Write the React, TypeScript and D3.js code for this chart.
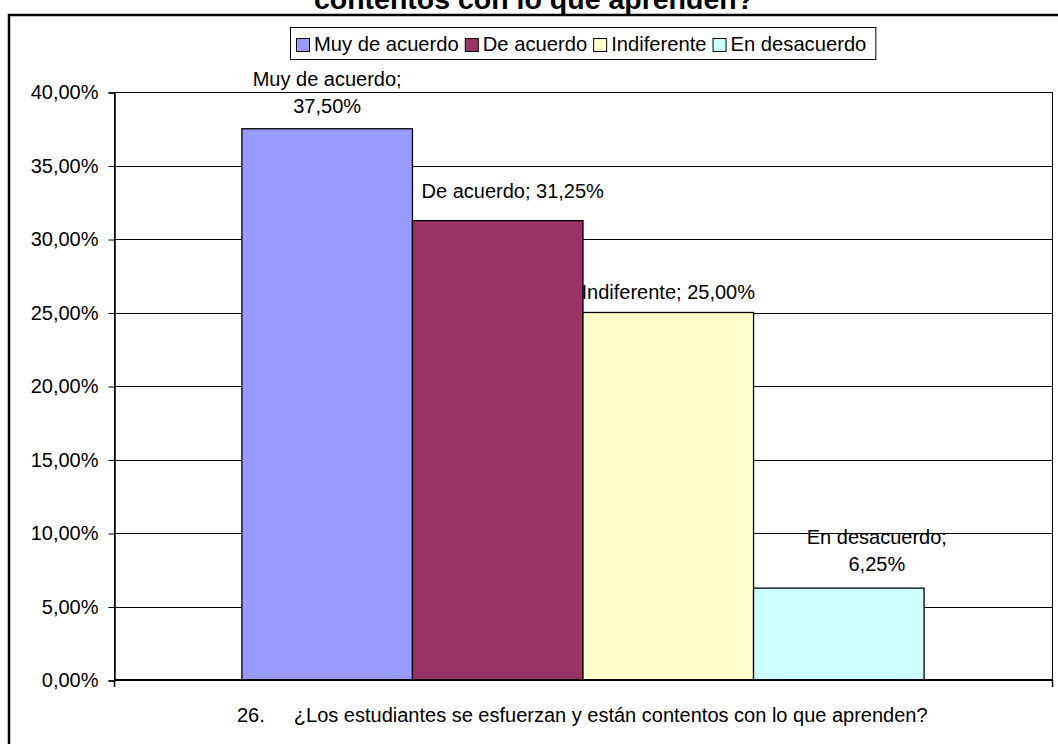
import React, { useEffect, useRef } from 'react'
import * as d3 from 'd3'

// chart data
const titleLine = 'contentos con lo que aprenden?'
const categoryNumber = '26.'
const categoryText = '¿Los estudiantes se esfuerzan y están contentos con lo que aprenden?'
const seriesNames = ['Muy de acuerdo', 'De acuerdo', 'Indiferente', 'En desacuerdo']
const seriesValues = [0.375, 0.3125, 0.25, 0.0625]
const seriesColors = ['#9999FF', '#993366', '#FFFFCC', '#CCFFFF']
const yTicks = [0, 0.05, 0.1, 0.15, 0.2, 0.25, 0.3, 0.35, 0.4]

// data label layout (as Excel placed them)
const labelWrap = [true, false, false, true]
const labelNudge = [
  { dx: 0, dy: 0 },
  { dx: 15, dy: -7 },
  { dx: 0, dy: 2 },
  { dx: 38, dy: -1 },
]

const esLocale = d3.formatLocale({ decimal: ',', thousands: '.', grouping: [3], currency: ['', '€'] })
const pct = esLocale.format('.2%')

const W = 1058
const H = 744
const FONT = '"Liberation Sans", Arial, sans-serif'

export default function App() {
  const ref = useRef<SVGSVGElement>(null)

  useEffect(() => {
    const svg = d3.select(ref.current)
    svg.selectAll('*').remove()

    const plot = { left: 114, right: 1052, top: 92, bottom: 680 }

    const y = d3.scaleLinear().domain([0, 0.4]).range([plot.bottom, plot.top])
    const x = d3.scaleBand<string>()
      .domain(seriesNames)
      .range([plot.left, plot.right])
      .paddingInner(0)
      .paddingOuter(0.75)

    svg.append('rect')
      .attr('width', W).attr('height', H).attr('fill', '#fff')

    // outer chart border (right/bottom fall off the picture)
    svg.append('rect')
      .attr('x', 9).attr('y', 15)
      .attr('width', W + 20).attr('height', H + 20)
      .attr('fill', 'none').attr('stroke', '#000').attr('stroke-width', 2.5)

    // title (only its second line is visible, as in the source)
    svg.append('text')
      .attr('x', 534).attr('y', 9)
      .attr('text-anchor', 'middle')
      .style('font-family', FONT).style('font-size', '28.5px').style('font-weight', 'bold')
      .text(titleLine)

    // gridlines
    svg.append('g').selectAll('line')
      .data(yTicks.filter(t => t > 0))
      .enter().append('line')
      .attr('x1', plot.left).attr('x2', plot.right)
      .attr('y1', d => Math.round(y(d)) + 0.5).attr('y2', d => Math.round(y(d)) + 0.5)
      .attr('stroke', '#000').attr('stroke-width', 1)

    // bars
    svg.append('g').selectAll('rect')
      .data(seriesNames)
      .enter().append('rect')
      .attr('x', d => x(d)!)
      .attr('width', x.bandwidth())
      .attr('y', (d, i) => y(seriesValues[i]))
      .attr('height', (d, i) => y(0) - y(seriesValues[i]))
      .attr('fill', (d, i) => seriesColors[i])
      .attr('stroke', '#000').attr('stroke-width', 1.3)

    // plot border
    svg.append('rect')
      .attr('x', plot.left + 0.5).attr('y', Math.round(y(0.4)) + 0.5)
      .attr('width', plot.right - plot.left)
      .attr('height', Math.round(y(0)) - Math.round(y(0.4)))
      .attr('fill', 'none').attr('stroke', '#000').attr('stroke-width', 1)

    // y axis
    const yAxis = d3.axisLeft(y).tickValues(yTicks).tickFormat(d => pct(d as number)).tickSize(6).tickPadding(10)
    const ya = svg.append('g').attr('transform', `translate(${plot.left + 0.5},0.5)`).call(yAxis)
    ya.select('.domain').attr('stroke', '#000').attr('stroke-width', 1.5)
    ya.selectAll('.tick line').attr('stroke', '#000')
    ya.selectAll('.tick text')
      .attr('fill', '#000')
      .style('font-family', FONT).style('font-size', '20px')

    // x axis (single category, ticks at its edges)
    svg.append('line')
      .attr('x1', plot.left).attr('x2', plot.right + 1)
      .attr('y1', y(0)).attr('y2', y(0))
      .attr('stroke', '#000').attr('stroke-width', 2)
    svg.append('g').selectAll('line')
      .data([plot.left, plot.right])
      .enter().append('line')
      .attr('x1', d => d + 0.5).attr('x2', d => d + 0.5)
      .attr('y1', y(0)).attr('y2', y(0) + 7)
      .attr('stroke', '#000').attr('stroke-width', 1.5)

    // category label: "26." then a tab, fitted to the span it has in the source
    const tab = 29
    const cat = svg.append('text')
      .attr('x', 237)
      .attr('y', 722)
      .style('font-family', FONT).style('font-size', '20px')
    cat.append('tspan').text(categoryNumber)
    cat.append('tspan').attr('dx', tab).text(categoryText)
    const catW = (cat.node() as SVGTextElement).getBBox().width
    cat.style('font-size', `${(20 * (928 - 237 - tab)) / (catW - tab)}px`)

    // data labels
    seriesNames.forEach((name, i) => {
      const v = pct(seriesValues[i])
      const lines = labelWrap[i] ? [name + ';', v] : [name + '; ' + v]
      const cx = x(name)! + x.bandwidth() / 2 + labelNudge[i].dx
      const lastBase = y(seriesValues[i]) - 16 + labelNudge[i].dy
      const t = svg.append('text')
        .attr('text-anchor', 'middle')
        .style('font-family', FONT).style('font-size', '20px')
      lines.forEach((ln, j) => {
        t.append('tspan')
          .attr('x', cx)
          .attr('y', lastBase - (lines.length - 1 - j) * 27)
          .text(ln)
      })
    })

    // legend
    const legendBox = svg.append('rect')
      .attr('fill', '#fff').attr('stroke', '#000').attr('stroke-width', 1)
    const legend = svg.append('g')
    let cursor = 0
    const sw = 13
    seriesNames.forEach((name, i) => {
      legend.append('rect')
        .attr('x', cursor + 0.5).attr('y', 38.5)
        .attr('width', sw).attr('height', sw)
        .attr('fill', seriesColors[i]).attr('stroke', '#000').attr('stroke-width', 1)
      const txt = legend.append('text')
        .attr('x', cursor + sw + 5).attr('y', 51)
        .style('font-family', FONT).style('font-size', '20.2px')
        .text(name)
      const len = (txt.node() as SVGTextElement).getComputedTextLength()
      cursor += sw + 5 + len + (i < seriesNames.length - 1 ? 6 : 0)
    })
    const boxW = cursor + 6 + 9
    const boxX = Math.round((plot.left + plot.right) / 2 - boxW / 2)
    legend.attr('transform', `translate(${boxX + 6},0)`)
    legendBox
      .attr('x', boxX + 0.5).attr('y', 27.5)
      .attr('width', boxW).attr('height', 32)
  }, [])

  return (
    <div style={{ position: 'absolute', left: 0, top: 0 }}>
      <svg ref={ref} width={W} height={H} style={{ display: 'block' }} />
    </div>
  )
}
